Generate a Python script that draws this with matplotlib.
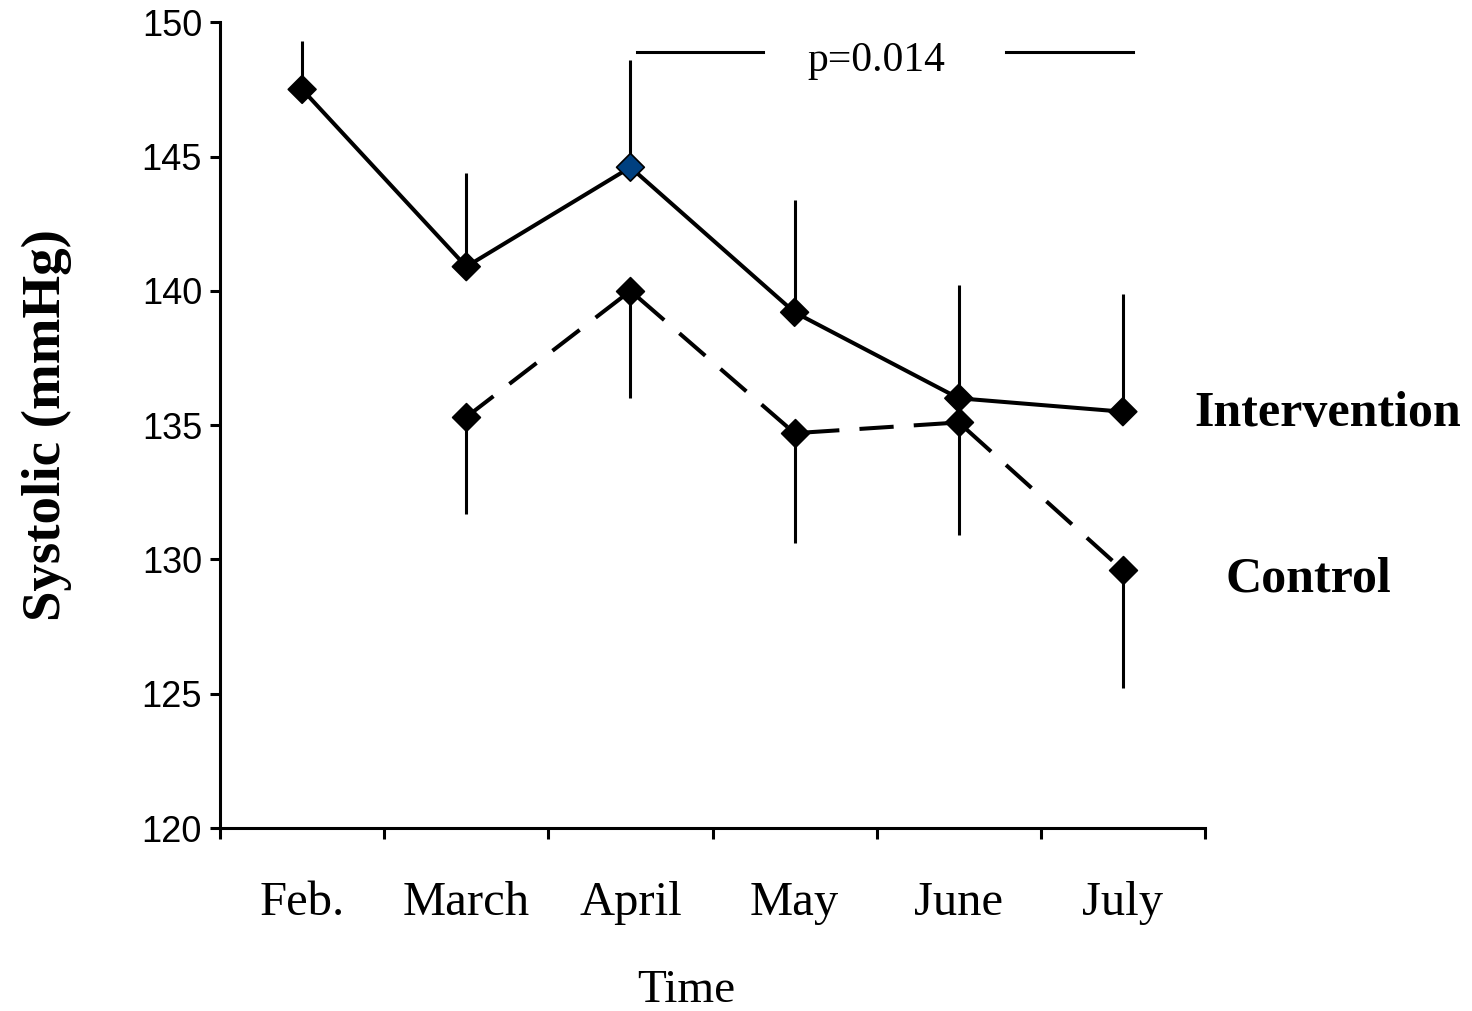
import numpy as np
import matplotlib.pyplot as plt

# Data
months = ['Feb.', 'March', 'April', 'May', 'June', 'July']
intervention = [147.5, 140.9, 144.6, 139.2, 136.0, 135.5]
intervention_err = [1.8, 3.5, 4.0, 4.2, 4.2, 4.4]
control = [np.nan, 135.3, 140.0, 134.7, 135.1, 129.6]
control_err = [np.nan, 3.6, 4.0, 4.1, 4.2, 4.4]
p_text = 'p=0.014'

x = np.arange(len(months))
serif = ['Liberation Serif', 'DejaVu Serif']
sans = ['Liberation Sans', 'DejaVu Sans']

fig = plt.figure(figsize=(14.72, 10.11), dpi=100)
ax = fig.add_axes([0.1495, 0.181, 0.8186 - 0.1495, 0.978 - 0.181])

lw = 2.9

# error bars: intervention upward, control downward
ax.errorbar(x, intervention, yerr=[np.zeros(len(x)), intervention_err],
            fmt='none', ecolor='black', elinewidth=2.2, capsize=0, zorder=2)
ax.errorbar(x, control, yerr=[control_err, np.zeros(len(x))],
            fmt='none', ecolor='black', elinewidth=2.2, capsize=0, zorder=2)

# lines
ax.plot(x, intervention, color='black', lw=lw, zorder=3)
ax.plot(x, control, color='black', lw=lw, linestyle=(0, (8.5, 5.0)), zorder=3)

# markers
int_colors = ['black'] * len(x)
int_colors[2] = '#004080'
ax.scatter(x, intervention, marker='D', s=200, c=int_colors,
           edgecolors='black', linewidths=1.2, zorder=4)
ax.scatter(x, control, marker='D', s=200, c='black',
           edgecolors='black', linewidths=1.2, zorder=4)

# significance bracket
ax.plot([2.04, 2.81], [148.9, 148.9], color='black', lw=2.2)
ax.plot([4.29, 5.06], [148.9, 148.9], color='black', lw=2.2)
ax.text(3.5, 148.2, p_text, ha='center', va='baseline',
        fontsize=30, family=serif)

# series labels
ax.text(6.25, 135.4, 'Intervention', ha='center', va='center',
        fontsize=36, fontweight='bold', family=serif, clip_on=False)
ax.text(6.13, 129.25, 'Control', ha='center', va='center',
        fontsize=36, fontweight='bold', family=serif, clip_on=False)

# axes
ax.set_xlim(-0.5, len(months) - 0.5)
ax.set_ylim(120, 150)
ax.set_yticks(np.arange(120, 151, 5))
ax.set_xticks(np.arange(-0.5, len(months), 1.0))
ax.set_xticklabels([])
ax.set_xticks(x, minor=True)
ax.set_xticklabels(months, minor=True, fontsize=35, family=serif)
ax.tick_params(axis='x', which='minor', length=0, pad=38)
ax.tick_params(axis='x', which='major', length=8, width=2.2, direction='out')
ax.tick_params(axis='y', length=7, width=2.2, direction='out', pad=6)
for lab in ax.get_yticklabels():
    lab.set_fontsize(26)
    lab.set_family(sans)

for side in ['top', 'right']:
    ax.spines[side].set_visible(False)
for side in ['left', 'bottom']:
    ax.spines[side].set_linewidth(2.2)

ax.set_xlabel('Time', fontsize=34, family=serif, labelpad=30)
ax.xaxis.set_label_coords(0.473, -0.175)
ax.set_ylabel('Systolic (mmHg)', fontsize=39.5, fontweight='bold',
              family=serif, labelpad=50)

fig.savefig('out.png', dpi=100, facecolor='white')
